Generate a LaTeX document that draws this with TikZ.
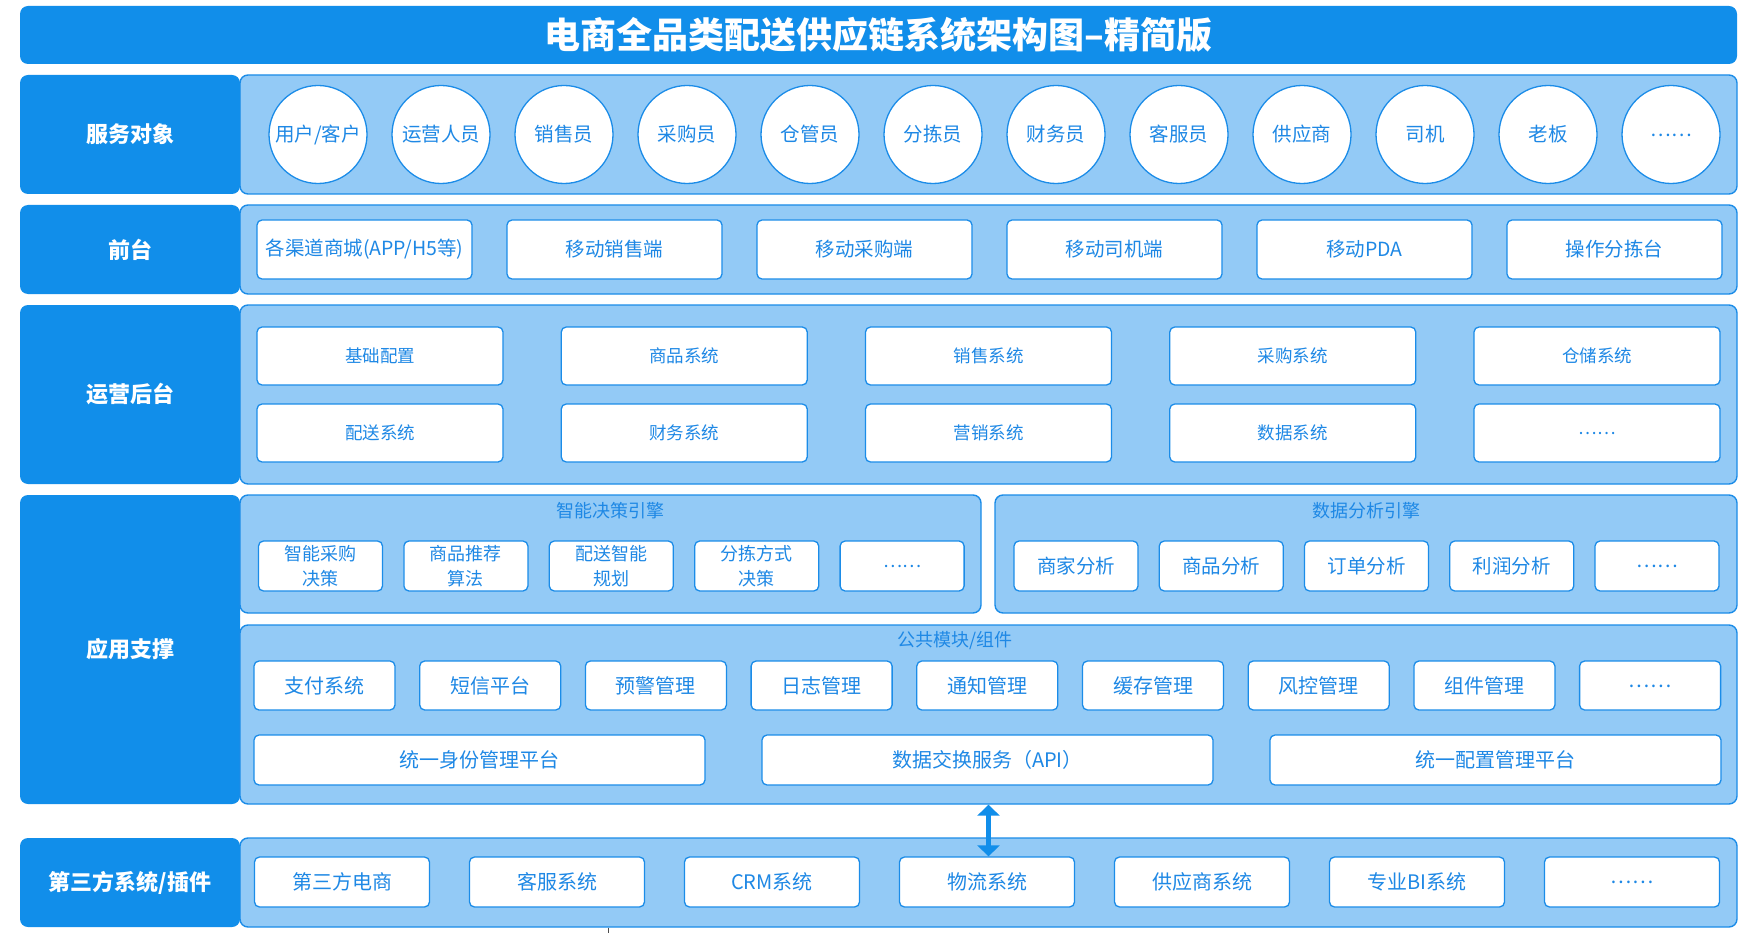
\documentclass[tikz,border=0pt]{standalone}
\usepackage{fontspec}
\setmainfont{Noto Sans CJK SC}
\usetikzlibrary{arrows.meta}
\definecolor{dblue}{HTML}{118EEA}
\definecolor{lblue}{HTML}{93CAF6}
\definecolor{bblue}{HTML}{1B8CE8}
\definecolor{tblue}{HTML}{1E88E5}
\newcommand\fsz[2]{\fontsize{#1}{#2}\selectfont}
\newcommand\ellip{\raisebox{-3.5pt}{……}}
\begin{document}
\begin{tikzpicture}[x=1pt,y=-1pt,
  lab/.style={fill=dblue,rounded corners=8pt,text=white,inner sep=0pt,
    font=\fsz{22}{26}\bfseries},
  panel/.style={fill=lblue,draw=bblue,line width=1.4pt,rounded corners=8pt,inner sep=0pt},
  wbox/.style={fill=white,draw=bblue,line width=1.3pt,rounded corners=5pt,text=tblue,
    inner sep=0pt,align=center},
  circ/.style={circle,fill=white,draw=bblue,line width=1.3pt,minimum size=98pt,
    inner sep=0pt,text=tblue,font=\fsz{19.5}{23}},
  ptitle/.style={text=tblue,inner sep=0pt,font=\fsz{18}{22}},
  biarrow/.style={{Triangle[width=22pt,length=11pt]}-{Triangle[width=22pt,length=11pt]},
    draw=dblue,line width=5pt}
]
\useasboundingbox (0,0) rectangle (1739,933);
\fill[white] (0,0) rectangle (1739,933);

% title
\node[lab,minimum width=1717pt,minimum height=58pt,font=\fsz{36}{40}\bfseries]
  (title) at (878.5,35) {电商全品类配送供应链系统架构图–精简版};

% row 1
\node[panel,minimum width=1497pt,minimum height=119pt] (p1) at (988.5,134.5) {};
\node[lab,minimum width=220pt,minimum height=119pt] (l1) at (130,134.5) {服务对象};
\foreach \t [count=\i from 0] in {用户/客户,运营人员,销售员,采购员,仓管员,分拣员,财务员,客服员,供应商,司机,老板,\ellip}
  \node[circ] (c\i) at (318+123*\i,134.5) {\t};

% row 2
\node[panel,minimum width=1497pt,minimum height=89pt] (p2) at (988.5,249.5) {};
\node[lab,minimum width=220pt,minimum height=89pt] (l2) at (130,249.5) {前台};
\foreach \t [count=\i from 0] in {各渠道商城(APP/H5等),移动销售端,移动采购端,移动司机端,移动PDA,操作分拣台}
  \node[wbox,minimum width=215pt,minimum height=59pt,font=\fsz{19.5}{23}] (f\i) at (364.5+250*\i,249.5) {\t};

% row 3
\node[panel,minimum width=1497pt,minimum height=179pt] (p3) at (988.5,394.5) {};
\node[lab,minimum width=220pt,minimum height=179pt] (l3) at (130,394.5) {运营后台};
\foreach \t [count=\i from 0] in {基础配置,商品系统,销售系统,采购系统,仓储系统}
  \node[wbox,minimum width=246pt,minimum height=58pt,font=\fsz{17.5}{21}] (oa\i) at (380+304.25*\i,356) {\t};
\foreach \t [count=\i from 0] in {配送系统,财务系统,营销系统,数据系统,\ellip}
  \node[wbox,minimum width=246pt,minimum height=58pt,font=\fsz{17.5}{21}] (ob\i) at (380+304.25*\i,433) {\t};

% row 4
\node[lab,minimum width=220pt,minimum height=309pt] (l4) at (130,649.5) {应用支撑};
\node[panel,minimum width=741pt,minimum height=118pt] (sl) at (610.5,554) {};
\node[panel,minimum width=742pt,minimum height=118pt] (sr) at (1366,554) {};
\node[ptitle] (slt) at (610.5,511) {智能决策引擎};
\node[ptitle] (srt) at (1366,511) {数据分析引擎};
\foreach \t [count=\i from 0] in {智能采购\\决策,商品推荐\\算法,配送智能\\规划,分拣方式\\决策,\ellip}
  \node[wbox,minimum width=124pt,minimum height=50pt,font=\fsz{18}{24.5}] (dl\i) at (320.5+145.4*\i,566) {\t};
\foreach \t [count=\i from 0] in {商家分析,商品分析,订单分析,利润分析,\ellip}
  \node[wbox,minimum width=124pt,minimum height=50pt,font=\fsz{19.5}{23}] (dr\i) at (1076+145.25*\i,566) {\t};
\node[panel,minimum width=1497pt,minimum height=179pt] (pub) at (988.5,714.5) {};
\node[ptitle] (pubt) at (955,641) {公共模块/组件};
\foreach \t [count=\i from 0] in {支付系统,短信平台,预警管理,日志管理,通知管理,缓存管理,风控管理,组件管理,\ellip}
  \node[wbox,minimum width=141pt,minimum height=49pt,font=\fsz{20}{24}] (m\i) at (324.5+165.7*\i,685.5) {\t};
\node[wbox,minimum width=451pt,minimum height=50pt,font=\fsz{20}{24}] (u0) at (479.5,760) {统一身份管理平台};
\node[wbox,minimum width=451pt,minimum height=50pt,font=\fsz{20}{24}] (u1) at (987.5,760) {数据交换服务（API）};
\node[wbox,minimum width=451pt,minimum height=50pt,font=\fsz{20}{24}] (u2) at (1495.5,760) {统一配置管理平台};

% row 5
\node[panel,minimum width=1497pt,minimum height=89pt] (p5) at (988.5,882.5) {};
\node[lab,minimum width=220pt,minimum height=89pt] (l5) at (130,882.5) {第三方系统/插件};
\foreach \t [count=\i from 0] in {第三方电商,客服系统,CRM系统,物流系统,供应商系统,专业BI系统,\ellip}
  \node[wbox,minimum width=175pt,minimum height=50pt,font=\fsz{20}{24}] (t\i) at (342+215*\i,882) {\t};

% connector
\draw[biarrow] (pub.south) -- (pub.south |- t3.north);

% small mark under bottom panel
\draw[black!70,line width=1pt] (p5.south -| 608,0) -- ++(0,7);
\end{tikzpicture}
\end{document}
